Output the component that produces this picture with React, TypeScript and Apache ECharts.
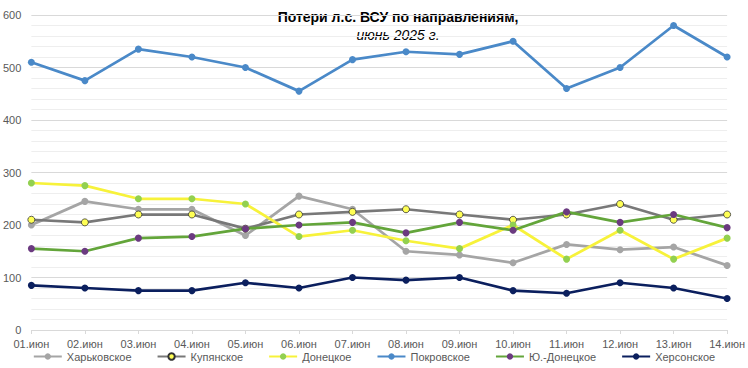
import React, { useEffect, useRef } from "react";
import * as echarts from "echarts";

const categories = [
  "01.июн", "02.июн", "03.июн", "04.июн", "05.июн", "06.июн", "07.июн",
  "08.июн", "09.июн", "10.июн", "11.июн", "12.июн", "13.июн", "14.июн",
];

const kharkov = [200, 245, 230, 230, 180, 255, 230, 150, 143, 128, 163, 153, 158, 123];
const kupyansk = [210, 205, 220, 220, 193, 220, 225, 230, 220, 210, 220, 240, 210, 220];
const donetsk = [280, 275, 250, 250, 240, 178, 190, 170, 155, 200, 135, 190, 135, 175];
const pokrovsk = [510, 475, 535, 520, 500, 455, 515, 530, 525, 550, 460, 500, 580, 520];
const southDonetsk = [155, 150, 175, 178, 193, 200, 205, 185, 205, 190, 225, 205, 220, 195];
const kherson = [85, 80, 75, 75, 90, 80, 100, 95, 100, 75, 70, 90, 80, 60];

const yTicks = { min: 0, max: 600, interval: 100 };

const FONT = "Liberation Sans";

export default function App() {
  const ref = useRef<HTMLDivElement>(null);
  useEffect(() => {
    document.body.style.margin = "0";
    const chart = echarts.init(ref.current!, null, { renderer: "svg" });
    const mk = (
      name: string,
      data: number[],
      color: string,
      markerColor: string,
      markerBorder?: string
    ) => ({
      name,
      type: "line",
      data,
      symbol: "circle",
      symbolSize: 7,
      lineStyle: { color, width: 2.75 },
      itemStyle: {
        color: markerColor,
        borderColor: markerBorder || markerColor,
        borderWidth: markerBorder ? 0.8 : 0,
      },
      color,
    });
    chart.setOption({
      animation: false,
      textStyle: { fontFamily: FONT },
      graphic: [
        {
          type: "text",
          x: 398,
          y: 17,
          style: {
            text: "Потери л.с. ВСУ по направлениям,",
            font: `bold 14px "${FONT}"`,
            fill: "#000",
            textAlign: "center",
            textVerticalAlign: "middle",
          },
        },
        {
          type: "text",
          x: 398,
          y: 35,
          style: {
            text: "июнь 2025 г.",
            font: `italic 14px "${FONT}"`,
            fill: "#000",
            textAlign: "center",
            textVerticalAlign: "middle",
          },
        },
      ],
      grid: { left: 30, right: 20, top: 15, bottom: 38, containLabel: false },
      legend: {
        bottom: 1,
        left: "center",
        itemWidth: 28,
        itemHeight: 8,
        itemGap: 25,
        textStyle: { color: "#595959", fontSize: 11, fontFamily: FONT },
        data: ["Харьковское", "Купянское", "Донецкое", "Покровское", "Ю.-Донецкое", "Херсонское"],
      },
      xAxis: {
        type: "category",
        data: categories,
        boundaryGap: false,
        axisLine: { lineStyle: { color: "#d9d9d9" } },
        axisTick: { show: true, alignWithLabel: true, length: 4, lineStyle: { color: "#d9d9d9" } },
        axisLabel: { color: "#595959", fontSize: 11, margin: 8, interval: 0 },
        splitLine: { show: false },
      },
      yAxis: {
        type: "value",
        min: yTicks.min,
        max: yTicks.max,
        interval: yTicks.interval,
        axisLine: { show: false },
        axisTick: { show: false },
        axisLabel: { color: "#595959", fontSize: 11, margin: 10 },
        splitLine: { lineStyle: { color: "#d9d9d9" } },
        minorTick: { show: false, splitNumber: 5 },
        minorSplitLine: { show: true, lineStyle: { color: "#eeeeee" } },
      },
      series: [
        mk("Харьковское", kharkov, "#a5a5a5", "#a5a5a5"),
        mk("Купянское", kupyansk, "#787878", "#ffff55", "#333333"),
        mk("Донецкое", donetsk, "#f7f23a", "#92d050"),
        mk("Покровское", pokrovsk, "#4a89c8", "#4a89c8"),
        mk("Ю.-Донецкое", southDonetsk, "#63a53a", "#6b3a80"),
        mk("Херсонское", kherson, "#0b1f5e", "#0b1f5e"),
      ],
    });
    return () => chart.dispose();
  }, []);
  return <div ref={ref} style={{ width: 748, height: 368 }} />;
}
